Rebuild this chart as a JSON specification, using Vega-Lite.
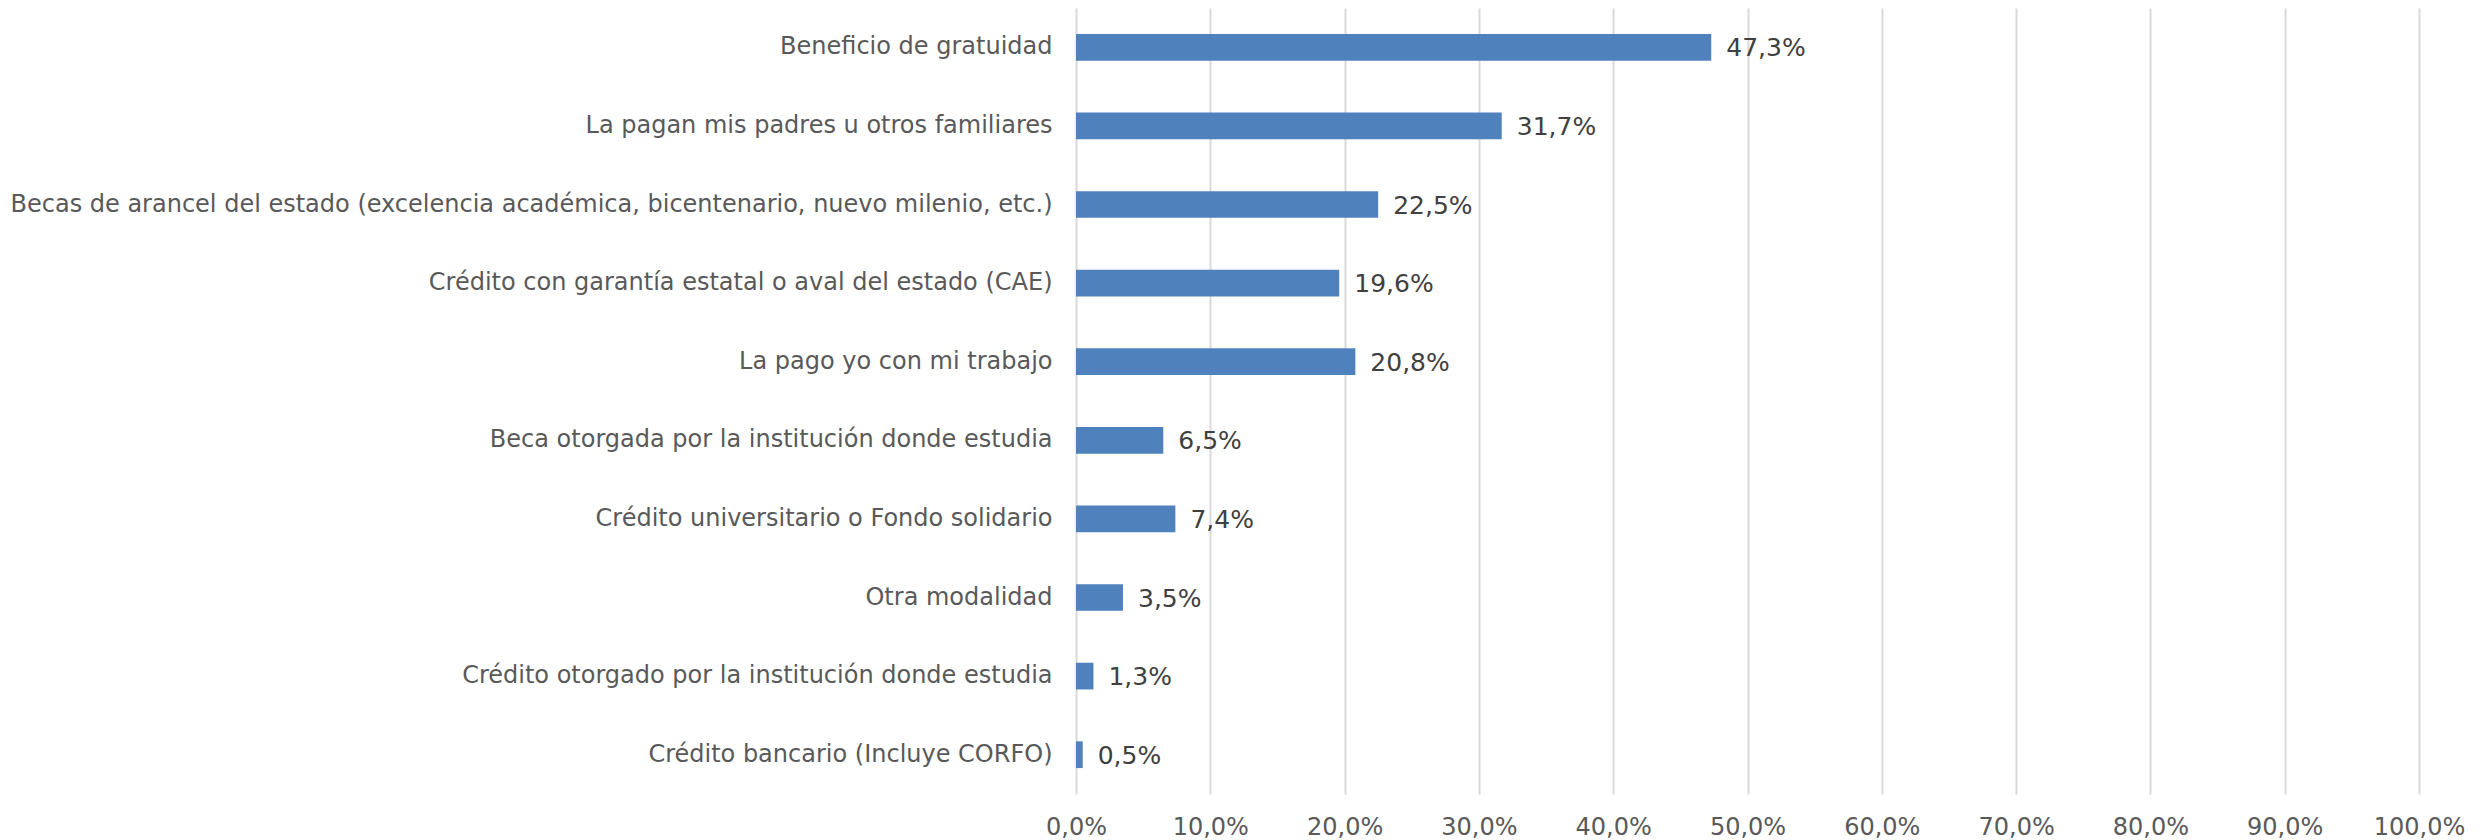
{
  "$schema": "https://vega.github.io/schema/vega-lite/v6.json",
  "width": 1343,
  "height": 786,
  "autosize": {"type": "none"},
  "padding": {"left": 1076, "top": 8, "right": 70, "bottom": 46},
  "background": "white",
  "config": {"view": {"stroke": null}, "font": "DejaVu Sans",
    "locale": {"number": {"decimal": ",", "thousands": ".", "grouping": [3], "currency": ["", " €"]}}},
  "data": {"values": [
    {"cat": "Beneficio de gratuidad", "v": 0.473},
    {"cat": "La pagan mis padres u otros familiares", "v": 0.317},
    {"cat": "Becas de arancel del estado (excelencia académica, bicentenario, nuevo milenio, etc.)", "v": 0.225},
    {"cat": "Crédito con garantía estatal o aval del estado (CAE)", "v": 0.196},
    {"cat": "La pago yo con mi trabajo", "v": 0.208},
    {"cat": "Beca otorgada por la institución donde estudia", "v": 0.065},
    {"cat": "Crédito universitario o Fondo solidario", "v": 0.074},
    {"cat": "Otra modalidad", "v": 0.035},
    {"cat": "Crédito otorgado por la institución donde estudia", "v": 0.013},
    {"cat": "Crédito bancario (Incluye CORFO)", "v": 0.005}
  ]},
  "encoding": {
    "y": {"field": "cat", "type": "nominal", "sort": null,
      "scale": {"paddingInner": 0.66, "paddingOuter": 0.33},
      "axis": {"title": null, "ticks": false, "domain": false, "labelFontSize": 24, "labelColor": "#595959", "labelPadding": 24, "labelLimit": 1200, "labelFont": "DejaVu Sans"}},
    "x": {"field": "v", "type": "quantitative",
      "scale": {"domain": [0, 1], "nice": false},
      "axis": {"title": null, "values": [0,0.1,0.2,0.3,0.4,0.5,0.6,0.7,0.8,0.9,1], "format": ".1%", "labelFlush": false, "labelOverlap": false, "ticks": false, "domain": false, "gridColor": "#D9D9D9", "gridWidth": 2, "labelFontSize": 24, "labelColor": "#595959", "labelPadding": 21, "labelFont": "DejaVu Sans"}}
  },
  "layer": [
    {"mark": {"type": "bar", "color": "#4F81BD"}},
    {"mark": {"type": "text", "align": "left", "dx": 15, "dy": 1, "fontSize": 25, "color": "#404040", "font": "DejaVu Sans"},
     "encoding": {"text": {"field": "v", "type": "quantitative", "format": ".1%"}}}
  ]
}
